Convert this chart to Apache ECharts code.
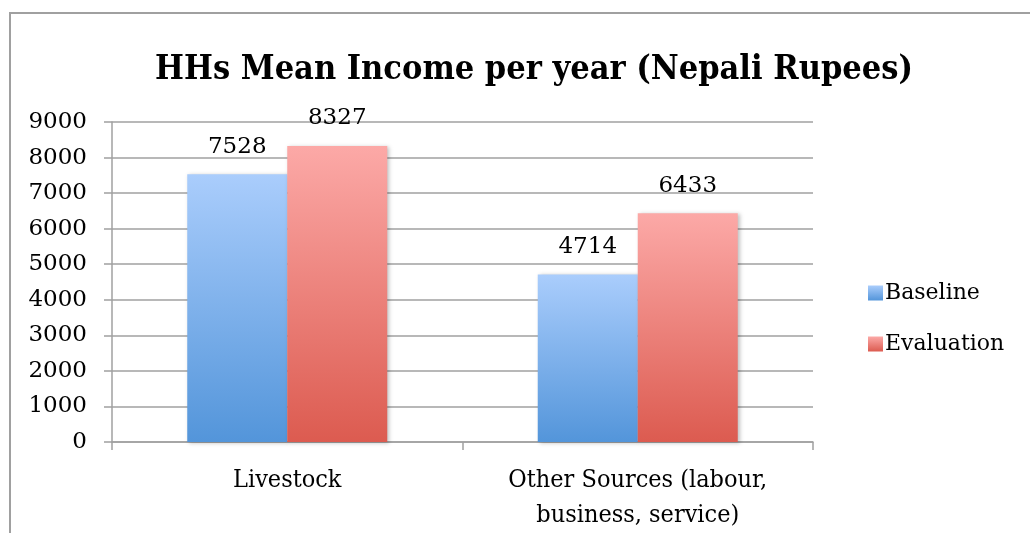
<!DOCTYPE html>
<html>
<head>
<meta charset="utf-8">
<script src="https://cdn.jsdelivr.net/npm/echarts@6/dist/echarts.min.js"></script>
<style>
  html, body { margin: 0; padding: 0; background: #ffffff; }
  #chart { width: 1030px; height: 533px; }
</style>
</head>
<body>
<div id="chart"></div>
<script>
// Household mean income per year, by source
const categories = ['Livestock', 'Other Sources (labour,\nbusiness, service)'];
const baseline = [7528, 4714];
const evaluation = [8327, 6433];
const seriesNames = ['Baseline', 'Evaluation'];
const yTicks = { min: 0, max: 9000, interval: 1000 };

const serif = "'DejaVu Serif', serif";
const serifCond = "'DejaVu Serif Condensed', 'DejaVu Serif', serif";

function vGrad(top, bottom) {
  return new echarts.graphic.LinearGradient(0, 0, 0, 1, [
    { offset: 0, color: top },
    { offset: 1, color: bottom }
  ]);
}

const blue = vGrad('#aacdfc', '#5395da');
const red = vGrad('#fca9a7', '#dc5b50');

const barStyle = (color) => ({
  color: color,
  shadowBlur: 4,
  shadowColor: 'rgba(0,0,0,0.25)',
  shadowOffsetX: 2,
  shadowOffsetY: 1
});

const valueLabel = {
  show: true,
  position: 'top',
  distance: 16,
  color: '#000',
  fontFamily: serif,
  fontSize: 23
};

const chart = echarts.init(document.getElementById('chart'), null, { renderer: 'canvas' });

chart.setOption({
  animation: false,
  backgroundColor: '#ffffff',
  graphic: [{
    type: 'rect',
    shape: { x: 10, y: 13, width: 1100, height: 600 },
    style: { fill: 'none', stroke: '#a0a0a0', lineWidth: 2 },
    silent: true
  }],
  title: {
    text: 'HHs Mean Income per year (Nepali Rupees)',
    left: 529,
    textAlign: 'center',
    top: 48,
    textStyle: {
      fontFamily: serifCond,
      fontWeight: 'bold',
      fontSize: 34,
      color: '#000'
    }
  },
  legend: {
    orient: 'vertical',
    left: 863,
    top: 277,
    itemWidth: 15,
    itemHeight: 15,
    itemGap: 29,
    icon: 'rect',
    textStyle: { fontFamily: serif, fontSize: 22, color: '#000', padding: [0, 0, 0, -3] },
    data: seriesNames
  },
  grid: { left: 112, top: 122, width: 701, height: 321, containLabel: false },
  xAxis: {
    type: 'category',
    data: categories,
    axisLine: { show: true, lineStyle: { color: '#a0a0a0', width: 1.5 } },
    axisTick: { show: true, length: 8, alignWithLabel: false, lineStyle: { color: '#a0a0a0', width: 1.5 } },
    axisLabel: {
      interval: 0,
      margin: 21,
      fontFamily: serifCond,
      fontSize: 25,
      lineHeight: 35,
      color: '#000'
    }
  },
  yAxis: {
    type: 'value',
    min: yTicks.min,
    max: yTicks.max,
    interval: yTicks.interval,
    axisLine: { show: true, lineStyle: { color: '#a0a0a0', width: 1.5 } },
    axisTick: { show: true, length: 8, lineStyle: { color: '#a0a0a0', width: 1.5 } },
    splitLine: { show: true, lineStyle: { color: '#a0a0a0', width: 1.5 } },
    axisLabel: {
      margin: 25,
      fontFamily: serif,
      fontSize: 23,
      color: '#000',
      formatter: (v) => String(v)
    }
  },
  series: [
    {
      name: seriesNames[0],
      type: 'bar',
      data: baseline,
      barWidth: 100,
      barGap: '0%',
      itemStyle: barStyle(blue),
      label: valueLabel
    },
    {
      name: seriesNames[1],
      type: 'bar',
      data: evaluation,
      barWidth: 100,
      barGap: '0%',
      itemStyle: barStyle(red),
      label: valueLabel
    }
  ]
});
</script>
</body>
</html>
